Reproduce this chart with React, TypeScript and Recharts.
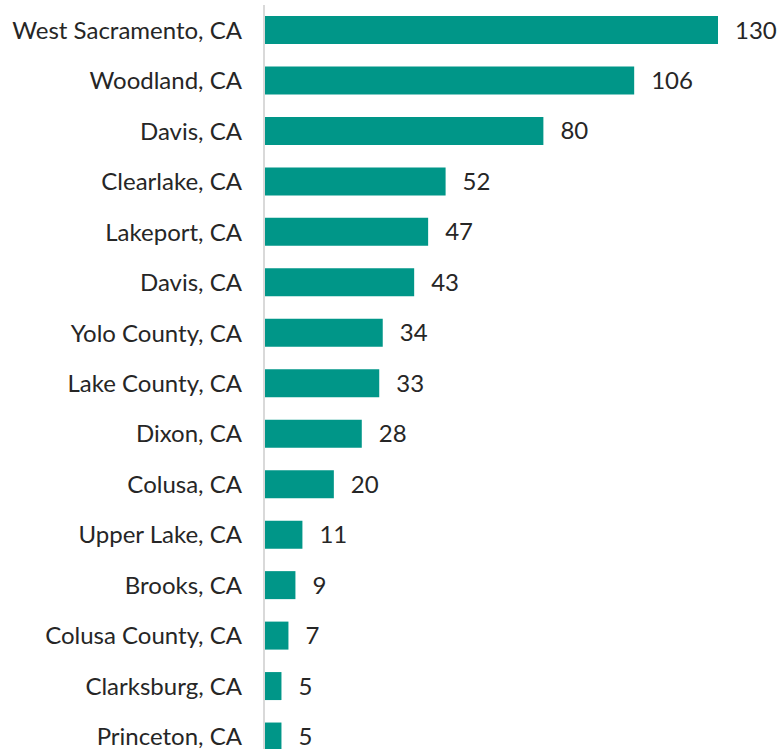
import { BarChart, Bar, XAxis, YAxis, LabelList } from 'recharts';

const cities = [
  'West Sacramento, CA',
  'Woodland, CA',
  'Davis, CA',
  'Clearlake, CA',
  'Lakeport, CA',
  'Davis, CA',
  'Yolo County, CA',
  'Lake County, CA',
  'Dixon, CA',
  'Colusa, CA',
  'Upper Lake, CA',
  'Brooks, CA',
  'Colusa County, CA',
  'Clarksburg, CA',
  'Princeton, CA',
];
const counts = [130, 106, 80, 52, 47, 43, 34, 33, 28, 20, 11, 9, 7, 5, 5];

const data = cities.map((name, i) => ({ idx: i, name, value: counts[i] }));

const font = 'Lato, "Open Sans", sans-serif';

export default function App() {
  return (
    <div style={{ position: 'absolute', top: 0, left: 0, width: 779, height: 749, overflow: 'hidden', background: '#fff' }}>
      <BarChart
        width={779}
        height={762}
        data={data}
        layout="vertical"
        margin={{ top: 5, right: 61, left: 0, bottom: 0 }}
        barCategoryGap={0}
      >
        <XAxis type="number" domain={[0, 130]} hide />
        <YAxis
          type="category"
          dataKey="idx"
          width={264}
          tickFormatter={(i: number) => cities[i]}
          axisLine={{ stroke: '#d9d9d9', strokeWidth: 2 }}
          tickLine={false}
          tickSize={0}
          tickMargin={22}
          tick={{ fontSize: 24, fill: '#262626', fontFamily: font }}
        />
        <Bar dataKey="value" fill="#009688" barSize={28} isAnimationActive={false}>
          <LabelList
            dataKey="value"
            position="right"
            offset={17}
            style={{ fontSize: 24, fill: '#262626', fontFamily: font }}
          />
        </Bar>
      </BarChart>
    </div>
  );
}
